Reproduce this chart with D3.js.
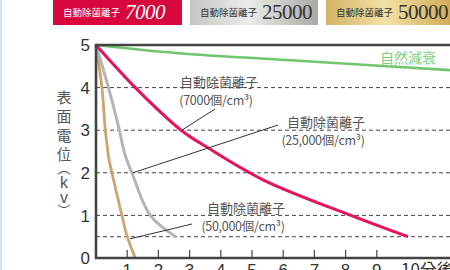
<!DOCTYPE html>
<html>
<head>
<meta charset="utf-8">
<script src="https://cdn.jsdelivr.net/npm/d3@7/dist/d3.min.js"></script>
<style>
  body { margin: 0; background: #fff; }
  svg { display: block; }
</style>
</head>
<body>
<svg id="chart"></svg>
<script>
// data (minutes, kV)
const yTicks = [0, 1, 2, 3, 4, 5];
const gridLines = [4, 3, 2, 1, 0.5];
const xTicks = [1, 2, 3, 4, 5, 6, 7, 8, 9, 10];
const xTickLabels = ["1", "2", "3", "4", "5", "6", "7", "8", "9", "10分後"];

const natural = [[0, 5], [2.75, 4.8], [6.5, 4.63], [11.35, 4.41]];
const ion7000 = [[0, 5], [1.26, 4], [2.73, 3], [3.6, 2.58], [5.37, 1.83], [8.17, 1], [10, 0.5]];
const ion25000 = [[0, 5], [0.4, 4], [0.75, 3], [0.92, 2.45], [1.15, 2], [1.74, 1], [2.55, 0.5]];
const ion50000 = [[0, 5], [0.19, 4], [0.3, 3], [0.42, 2.3], [0.51, 2], [0.83, 1], [1.0, 0.5], [1.26, 0]];

const headerNames = ["自動除菌離子", "自動除菌離子", "自動除菌離子"];
const headerNums = ["7000", "25000", "50000"];

const width = 450;
const height = 270;
const cjk = "'Noto Sans CJK TC', 'Noto Sans CJK JP', sans-serif";
const sans = "'Liberation Sans', Arial, sans-serif";

const svg = d3.select("#chart")
    .attr("width", width)
    .attr("height", height);

const x = d3.scaleLinear().domain([0, 10]).range([96, 408]);
const y = d3.scaleLinear().domain([0, 5]).range([258, 45]);

// gradients for the header tags
const defs = svg.append("defs");
const silver = defs.append("linearGradient").attr("id", "silver");
silver.append("stop").attr("offset", "0").attr("stop-color", "#c4c4c0");
silver.append("stop").attr("offset", "0.45").attr("stop-color", "#ececea");
silver.append("stop").attr("offset", "1").attr("stop-color", "#a9a9a4");
const gold = defs.append("linearGradient").attr("id", "gold");
gold.append("stop").attr("offset", "0").attr("stop-color", "#d2b366");
gold.append("stop").attr("offset", "0.45").attr("stop-color", "#f2e1a6");
gold.append("stop").attr("offset", "1").attr("stop-color", "#cfa752");

// light blue strip on the left edge
svg.append("rect").attr("x", 0).attr("y", 0).attr("width", 2).attr("height", height).attr("fill", "#cfe3f4");

// header tags
const tagX = [53, 190, 326];
const tagW = [129, 128, 130];
const tagFill = ["#d7063c", "url(#silver)", "url(#gold)"];
const tagInk = ["#fff", "#333", "#333"];
headerNums.forEach(function(n, i) {
  svg.append("rect")
      .attr("x", tagX[i]).attr("y", -2)
      .attr("width", tagW[i]).attr("height", 27)
      .attr("fill", tagFill[i]);
  svg.append("text")
      .attr("x", tagX[i] + 10).attr("y", 16)
      .attr("fill", tagInk[i])
      .style("font-family", cjk).style("font-size", "9.5px")
      .text(headerNames[i]);
  svg.append("text")
      .attr("x", tagX[i] + 72).attr("y", 19)
      .attr("fill", tagInk[i])
      .style("font-family", "'Liberation Serif', 'DejaVu Serif', serif")
      .style("font-style", i === 0 ? "italic" : "normal")
      .style("font-size", "21px")
      .style("letter-spacing", "-0.5px")
      .text(n);
});

// dashed grid
svg.append("g").selectAll("line")
    .data(gridLines)
    .join("line")
    .attr("x1", x(0)).attr("x2", width)
    .attr("y1", d => y(d)).attr("y2", d => y(d))
    .attr("stroke", "#444").attr("stroke-width", 1)
    .attr("stroke-dasharray", "4,3");

// x ticks (inside, pointing up)
svg.append("g").selectAll("line")
    .data(xTicks.slice(0, 9))
    .join("line")
    .attr("x1", d => x(d)).attr("x2", d => x(d))
    .attr("y1", y(0)).attr("y2", y(0) - 8)
    .attr("stroke", "#444").attr("stroke-width", 1.2);

// curves
const line = d3.line()
    .x(d => x(d[0]))
    .y(d => y(d[1]))
    .curve(d3.curveCatmullRom.alpha(0.5));

svg.append("path").datum(natural)
    .attr("d", line).attr("fill", "none")
    .attr("stroke", "#6fc66f").attr("stroke-width", 2.5);
svg.append("path").datum(ion50000)
    .attr("d", line).attr("fill", "none")
    .attr("stroke", "#cba470").attr("stroke-width", 2.8);
svg.append("path").datum(ion25000)
    .attr("d", line).attr("fill", "none")
    .attr("stroke", "#b5b5b5").attr("stroke-width", 3);
svg.append("path").datum(ion7000)
    .attr("d", line).attr("fill", "none")
    .attr("stroke", "#e5125d").attr("stroke-width", 3);

// frame: left axis, top border, bottom axis
svg.append("path")
    .attr("d", `M${width},${y(5)}H${x(0)}V${y(0)}H${width}`)
    .attr("fill", "none").attr("stroke", "#444").attr("stroke-width", 2.6);

// y tick labels
svg.append("g").selectAll("text")
    .data(yTicks)
    .join("text")
    .attr("x", 90).attr("y", d => y(d))
    .attr("dy", "0.36em")
    .attr("text-anchor", "end")
    .attr("fill", "#333")
    .style("font-family", sans).style("font-size", "17px")
    .text(d => d);

// x tick labels
svg.append("g").selectAll("text")
    .data(xTicks)
    .join("text")
    .attr("x", (d, i) => i === 9 ? x(d) - 7 : x(d))
    .attr("y", 276)
    .attr("text-anchor", (d, i) => i === 9 ? "start" : "middle")
    .attr("fill", "#333")
    .style("font-family", (d, i) => i === 9 ? cjk : sans)
    .style("font-size", "17px")
    .text((d, i) => xTickLabels[i]);

// y axis title, stacked vertically
const yTitle = ["表", "面", "電", "位", "︵", "k", "v", "︶"];
const yTitleY = [98, 117, 136, 155, 168, 182, 197, 210];
const yTitleSize = [15, 15, 15, 15, 13, 16, 16, 13];
svg.append("g").selectAll("text")
    .data(yTitle)
    .join("text")
    .attr("x", 64).attr("y", (d, i) => yTitleY[i])
    .attr("dy", "0.35em")
    .attr("text-anchor", "middle")
    .attr("fill", "#555")
    .style("font-family", (d, i) => (i === 5 || i === 6) ? sans : cjk)
    .style("font-size", (d, i) => yTitleSize[i] + "px")
    .text(d => d);

// natural decay label
svg.append("text")
    .attr("x", 436).attr("y", 58).attr("dy", "0.35em")
    .attr("text-anchor", "end")
    .attr("fill", "#7fcf7f")
    .style("font-family", cjk).style("font-size", "14px")
    .text("自然減衰");

// annotations
function note(lx, ly, name, sub, from, to) {
  svg.append("line")
      .attr("x1", from[0]).attr("y1", from[1])
      .attr("x2", x(to[0])).attr("y2", y(to[1]))
      .attr("stroke", "#333").attr("stroke-width", 1);
  svg.append("text")
      .attr("x", lx).attr("y", ly)
      .attr("text-anchor", "middle")
      .attr("fill", "#555")
      .style("font-family", cjk).style("font-size", "13px")
      .text(name);
  svg.append("text")
      .attr("x", lx - 3).attr("y", ly + 18)
      .attr("text-anchor", "middle")
      .attr("fill", "#555")
      .style("font-family", cjk).style("font-size", "12.5px")
      .style("letter-spacing", "-0.3px")
      .text(sub);
}
note(219, 87, "自動除菌離子", "(7000個/cm³)", [215, 109], [2.75, 3]);
note(326, 127, "自動除菌離子", "(25,000個/cm³)", [278, 125], [1.18, 2]);
note(246, 213, "自動除菌離子", "(50,000個/cm³)", [192, 224], [1.09, 0.45]);
</script>
</body>
</html>
